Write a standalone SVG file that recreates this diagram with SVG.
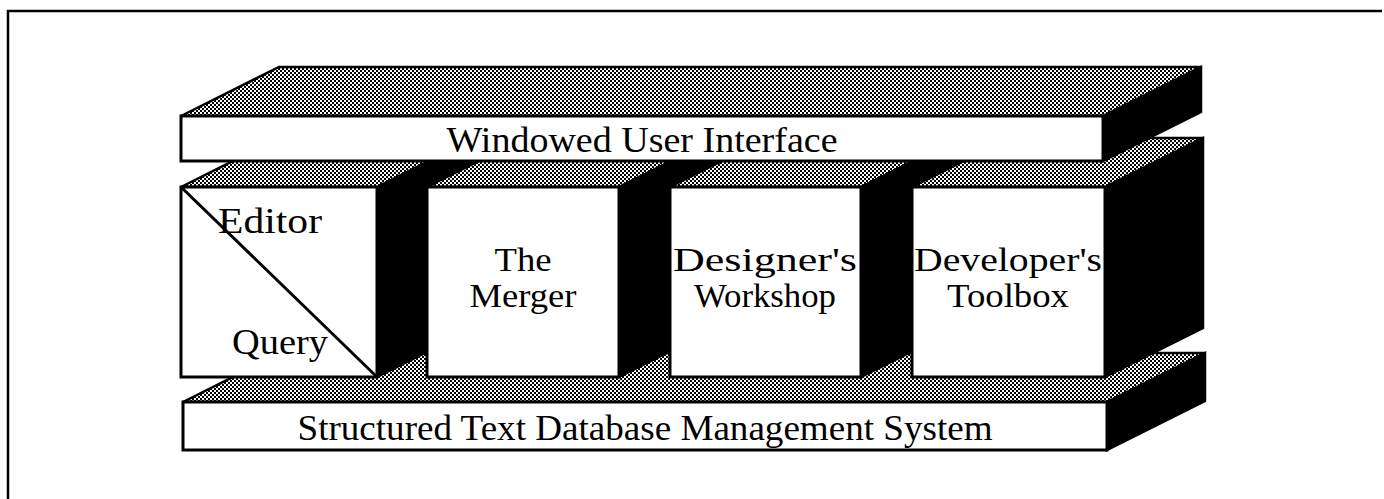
<svg xmlns="http://www.w3.org/2000/svg" width="1384" height="499" viewBox="0 0 1384 499">
  <defs>
    <!-- dithered grey used on the top faces -->
    <pattern id="dither" width="4" height="4" patternUnits="userSpaceOnUse">
      <rect width="4" height="4" fill="#000"/>
      <rect x="0" y="0" width="2" height="2" fill="#fff"/>
      <rect x="2" y="2" width="2" height="2" fill="#fff"/>
    </pattern>
  </defs>
  <style>
    .top   { fill: url(#dither); stroke: #000; stroke-width: 2.5; stroke-linejoin: miter; }
    .side  { fill: #000; stroke: #000; stroke-width: 2.5; }
    .front { fill: #fff; stroke: #000; stroke-width: 3; }
    .lbl   { font-family: "Liberation Serif", "Times New Roman", serif; font-size: 36px; fill: #000; }
    .box   { font-size: 33px; }
    .mid   { text-anchor: middle; }
  </style>

  <rect width="1384" height="499" fill="#fff"/>
  <!-- page frame -->
  <path d="M8,499 V11 H1382" fill="none" stroke="#000" stroke-width="2.5"/>

  <!-- lower slab -->
  <g id="dbms">
    <polygon class="top" points="183,402 1107,402 1205,353 281,353"/>
    <polygon class="side" points="1107,402 1205,353 1205,401 1107,450"/>
    <rect class="front" x="183" y="402" width="924" height="48"/>
    <text class="lbl mid" x="645" y="440" textLength="695" lengthAdjust="spacingAndGlyphs">Structured Text Database Management System</text>
  </g>

  <!-- middle row of tools, drawn left to right -->
  <g id="editor-query">
    <polygon class="top" points="181,187 377,187 475,138 279,138"/>
    <polygon class="side" points="377,187 475,138 475,328 377,377"/>
    <rect class="front" x="181" y="187" width="196" height="190"/>
    <line x1="181" y1="187" x2="377" y2="377" stroke="#000" stroke-width="3"/>
    <text class="lbl" x="218" y="233" textLength="104" lengthAdjust="spacingAndGlyphs">Editor</text>
    <text class="lbl" x="232" y="354" textLength="96" lengthAdjust="spacingAndGlyphs">Query</text>
  </g>

  <g id="merger">
    <polygon class="top" points="427,187 619,187 717,138 525,138"/>
    <polygon class="side" points="619,187 717,138 717,328 619,377"/>
    <rect class="front" x="427" y="187" width="192" height="190"/>
    <text class="lbl box mid" x="523" y="271" textLength="57" lengthAdjust="spacingAndGlyphs">The</text>
    <text class="lbl box mid" x="523" y="307" textLength="107" lengthAdjust="spacingAndGlyphs">Merger</text>
  </g>

  <g id="designers-workshop">
    <polygon class="top" points="670,187 861,187 959,138 768,138"/>
    <polygon class="side" points="861,187 959,138 959,328 861,377"/>
    <rect class="front" x="670" y="187" width="191" height="190"/>
    <text class="lbl box mid" x="765" y="271" textLength="184" lengthAdjust="spacingAndGlyphs">Designer's</text>
    <text class="lbl box mid" x="765" y="307" textLength="142" lengthAdjust="spacingAndGlyphs">Workshop</text>
  </g>

  <g id="developers-toolbox">
    <polygon class="top" points="912,187 1105,187 1203,138 1010,138"/>
    <polygon class="side" points="1105,187 1203,138 1203,328 1105,377"/>
    <rect class="front" x="912" y="187" width="193" height="190"/>
    <text class="lbl box mid" x="1008" y="271" textLength="188" lengthAdjust="spacingAndGlyphs">Developer's</text>
    <text class="lbl box mid" x="1008" y="307" textLength="122" lengthAdjust="spacingAndGlyphs">Toolbox</text>
  </g>

  <!-- upper slab -->
  <g id="windowed-ui">
    <polygon class="top" points="181,116 1103,116 1201,67 279,67"/>
    <polygon class="side" points="1103,116 1201,67 1201,112 1103,161"/>
    <rect class="front" x="181" y="116" width="922" height="45"/>
    <text class="lbl mid" x="642" y="152" textLength="391" lengthAdjust="spacingAndGlyphs">Windowed User Interface</text>
  </g>
</svg>
